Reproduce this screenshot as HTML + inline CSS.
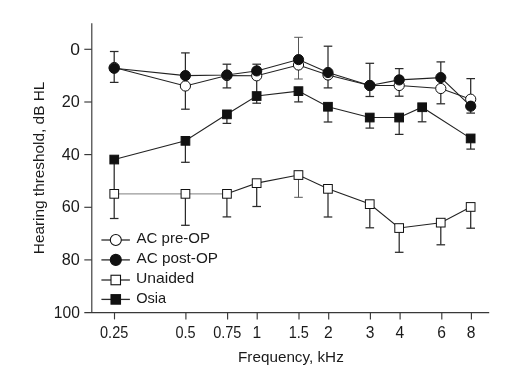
<!DOCTYPE html>
<html><head><meta charset="utf-8"><style>
html,body{margin:0;padding:0;background:#fff;}
svg{display:block;font-family:"Liberation Sans",sans-serif;fill:#1a1a1a;}
</style></head><body>
<svg width="520" height="391" viewBox="0 0 520 391">
<rect width="520" height="391" fill="#fff"/>
<line x1="91.8" y1="23.2" x2="91.8" y2="313.1" stroke="#383838" stroke-width="1.15"/>
<line x1="84.3" y1="312.6" x2="489.2" y2="312.6" stroke="#383838" stroke-width="1.15"/>
<line x1="84.3" y1="49.3" x2="91.8" y2="49.3" stroke="#383838" stroke-width="1.15"/>
<line x1="84.3" y1="102.0" x2="91.8" y2="102.0" stroke="#383838" stroke-width="1.15"/>
<line x1="84.3" y1="154.6" x2="91.8" y2="154.6" stroke="#383838" stroke-width="1.15"/>
<line x1="84.3" y1="207.3" x2="91.8" y2="207.3" stroke="#383838" stroke-width="1.15"/>
<line x1="84.3" y1="259.9" x2="91.8" y2="259.9" stroke="#383838" stroke-width="1.15"/>
<line x1="114.5" y1="312.6" x2="114.5" y2="319.4" stroke="#383838" stroke-width="1.15"/>
<line x1="185.9" y1="312.6" x2="185.9" y2="319.4" stroke="#383838" stroke-width="1.15"/>
<line x1="227.6" y1="312.6" x2="227.6" y2="319.4" stroke="#383838" stroke-width="1.15"/>
<line x1="257.2" y1="312.6" x2="257.2" y2="319.4" stroke="#383838" stroke-width="1.15"/>
<line x1="299.0" y1="312.6" x2="299.0" y2="319.4" stroke="#383838" stroke-width="1.15"/>
<line x1="328.7" y1="312.6" x2="328.7" y2="319.4" stroke="#383838" stroke-width="1.15"/>
<line x1="370.4" y1="312.6" x2="370.4" y2="319.4" stroke="#383838" stroke-width="1.15"/>
<line x1="400.1" y1="312.6" x2="400.1" y2="319.4" stroke="#383838" stroke-width="1.15"/>
<line x1="441.8" y1="312.6" x2="441.8" y2="319.4" stroke="#383838" stroke-width="1.15"/>
<line x1="471.4" y1="312.6" x2="471.4" y2="319.4" stroke="#383838" stroke-width="1.15"/>
<line x1="114.2" y1="193.8" x2="114.2" y2="218.5" stroke="#2a2a2a" stroke-width="1.25"/>
<line x1="109.9" y1="218.5" x2="118.5" y2="218.5" stroke="#2a2a2a" stroke-width="1.25"/>
<line x1="185.4" y1="193.8" x2="185.4" y2="225.3" stroke="#2a2a2a" stroke-width="1.25"/>
<line x1="181.1" y1="225.3" x2="189.7" y2="225.3" stroke="#2a2a2a" stroke-width="1.25"/>
<line x1="226.9" y1="193.8" x2="226.9" y2="216.9" stroke="#2a2a2a" stroke-width="1.25"/>
<line x1="222.6" y1="216.9" x2="231.2" y2="216.9" stroke="#2a2a2a" stroke-width="1.25"/>
<line x1="256.7" y1="183.1" x2="256.7" y2="206.5" stroke="#2a2a2a" stroke-width="1.25"/>
<line x1="252.4" y1="206.5" x2="261.0" y2="206.5" stroke="#2a2a2a" stroke-width="1.25"/>
<line x1="298.5" y1="175.0" x2="298.5" y2="197.3" stroke="#555" stroke-width="1.0"/>
<line x1="294.2" y1="197.3" x2="302.8" y2="197.3" stroke="#555" stroke-width="1.0"/>
<line x1="328.0" y1="188.8" x2="328.0" y2="217.0" stroke="#2a2a2a" stroke-width="1.25"/>
<line x1="323.7" y1="217.0" x2="332.3" y2="217.0" stroke="#2a2a2a" stroke-width="1.25"/>
<line x1="369.8" y1="204.1" x2="369.8" y2="227.8" stroke="#2a2a2a" stroke-width="1.25"/>
<line x1="365.5" y1="227.8" x2="374.1" y2="227.8" stroke="#2a2a2a" stroke-width="1.25"/>
<line x1="399.2" y1="228.0" x2="399.2" y2="252.3" stroke="#2a2a2a" stroke-width="1.25"/>
<line x1="394.9" y1="252.3" x2="403.5" y2="252.3" stroke="#2a2a2a" stroke-width="1.25"/>
<line x1="440.8" y1="222.7" x2="440.8" y2="244.8" stroke="#2a2a2a" stroke-width="1.25"/>
<line x1="436.5" y1="244.8" x2="445.1" y2="244.8" stroke="#2a2a2a" stroke-width="1.25"/>
<line x1="470.7" y1="206.9" x2="470.7" y2="228.2" stroke="#2a2a2a" stroke-width="1.25"/>
<line x1="466.4" y1="228.2" x2="475.0" y2="228.2" stroke="#2a2a2a" stroke-width="1.25"/>
<line x1="114.2" y1="159.6" x2="114.2" y2="193.8" stroke="#2a2a2a" stroke-width="1.25"/>
<line x1="185.4" y1="140.8" x2="185.4" y2="162.3" stroke="#2a2a2a" stroke-width="1.25"/>
<line x1="181.1" y1="162.3" x2="189.7" y2="162.3" stroke="#2a2a2a" stroke-width="1.25"/>
<line x1="226.9" y1="114.3" x2="226.9" y2="123.4" stroke="#2a2a2a" stroke-width="1.25"/>
<line x1="222.6" y1="123.4" x2="231.2" y2="123.4" stroke="#2a2a2a" stroke-width="1.25"/>
<line x1="256.7" y1="96.0" x2="256.7" y2="103.2" stroke="#2a2a2a" stroke-width="1.25"/>
<line x1="252.4" y1="103.2" x2="261.0" y2="103.2" stroke="#2a2a2a" stroke-width="1.25"/>
<line x1="298.5" y1="91.1" x2="298.5" y2="101.9" stroke="#2a2a2a" stroke-width="1.25"/>
<line x1="294.2" y1="101.9" x2="302.8" y2="101.9" stroke="#2a2a2a" stroke-width="1.25"/>
<line x1="328.0" y1="106.7" x2="328.0" y2="122.0" stroke="#2a2a2a" stroke-width="1.25"/>
<line x1="323.7" y1="122.0" x2="332.3" y2="122.0" stroke="#2a2a2a" stroke-width="1.25"/>
<line x1="369.8" y1="117.5" x2="369.8" y2="128.1" stroke="#2a2a2a" stroke-width="1.25"/>
<line x1="365.5" y1="128.1" x2="374.1" y2="128.1" stroke="#2a2a2a" stroke-width="1.25"/>
<line x1="399.2" y1="117.5" x2="399.2" y2="134.4" stroke="#2a2a2a" stroke-width="1.25"/>
<line x1="394.9" y1="134.4" x2="403.5" y2="134.4" stroke="#2a2a2a" stroke-width="1.25"/>
<line x1="422.1" y1="107.2" x2="422.1" y2="121.8" stroke="#2a2a2a" stroke-width="1.25"/>
<line x1="417.8" y1="121.8" x2="426.4" y2="121.8" stroke="#2a2a2a" stroke-width="1.25"/>
<line x1="470.7" y1="138.4" x2="470.7" y2="149.1" stroke="#2a2a2a" stroke-width="1.25"/>
<line x1="466.4" y1="149.1" x2="475.0" y2="149.1" stroke="#2a2a2a" stroke-width="1.25"/>
<line x1="114.2" y1="51.5" x2="114.2" y2="82.4" stroke="#2a2a2a" stroke-width="1.25"/>
<line x1="109.9" y1="51.5" x2="118.5" y2="51.5" stroke="#2a2a2a" stroke-width="1.25"/>
<line x1="109.9" y1="82.4" x2="118.5" y2="82.4" stroke="#2a2a2a" stroke-width="1.25"/>
<line x1="185.4" y1="52.9" x2="185.4" y2="109.2" stroke="#2a2a2a" stroke-width="1.25"/>
<line x1="181.1" y1="52.9" x2="189.7" y2="52.9" stroke="#2a2a2a" stroke-width="1.25"/>
<line x1="181.1" y1="109.2" x2="189.7" y2="109.2" stroke="#2a2a2a" stroke-width="1.25"/>
<line x1="226.9" y1="64.2" x2="226.9" y2="87.9" stroke="#2a2a2a" stroke-width="1.25"/>
<line x1="222.6" y1="64.2" x2="231.2" y2="64.2" stroke="#2a2a2a" stroke-width="1.25"/>
<line x1="222.6" y1="87.9" x2="231.2" y2="87.9" stroke="#2a2a2a" stroke-width="1.25"/>
<line x1="256.7" y1="64.2" x2="256.7" y2="96.0" stroke="#2a2a2a" stroke-width="1.25"/>
<line x1="252.4" y1="64.2" x2="261.0" y2="64.2" stroke="#2a2a2a" stroke-width="1.25"/>
<line x1="298.5" y1="37.3" x2="298.5" y2="79.0" stroke="#555" stroke-width="1.0"/>
<line x1="294.2" y1="37.3" x2="302.8" y2="37.3" stroke="#555" stroke-width="1.0"/>
<line x1="294.2" y1="79.0" x2="302.8" y2="79.0" stroke="#555" stroke-width="1.0"/>
<line x1="328.0" y1="46.2" x2="328.0" y2="87.9" stroke="#2a2a2a" stroke-width="1.25"/>
<line x1="323.7" y1="46.2" x2="332.3" y2="46.2" stroke="#2a2a2a" stroke-width="1.25"/>
<line x1="323.7" y1="87.9" x2="332.3" y2="87.9" stroke="#2a2a2a" stroke-width="1.25"/>
<line x1="369.8" y1="63.3" x2="369.8" y2="96.5" stroke="#2a2a2a" stroke-width="1.25"/>
<line x1="365.5" y1="63.3" x2="374.1" y2="63.3" stroke="#2a2a2a" stroke-width="1.25"/>
<line x1="365.5" y1="96.5" x2="374.1" y2="96.5" stroke="#2a2a2a" stroke-width="1.25"/>
<line x1="399.2" y1="68.6" x2="399.2" y2="96.2" stroke="#2a2a2a" stroke-width="1.25"/>
<line x1="394.9" y1="68.6" x2="403.5" y2="68.6" stroke="#2a2a2a" stroke-width="1.25"/>
<line x1="394.9" y1="96.2" x2="403.5" y2="96.2" stroke="#2a2a2a" stroke-width="1.25"/>
<line x1="440.8" y1="61.9" x2="440.8" y2="103.8" stroke="#2a2a2a" stroke-width="1.25"/>
<line x1="436.5" y1="61.9" x2="445.1" y2="61.9" stroke="#2a2a2a" stroke-width="1.25"/>
<line x1="436.5" y1="103.8" x2="445.1" y2="103.8" stroke="#2a2a2a" stroke-width="1.25"/>
<line x1="470.7" y1="78.6" x2="470.7" y2="113.1" stroke="#2a2a2a" stroke-width="1.25"/>
<line x1="466.4" y1="78.6" x2="475.0" y2="78.6" stroke="#2a2a2a" stroke-width="1.25"/>
<line x1="466.4" y1="113.1" x2="475.0" y2="113.1" stroke="#2a2a2a" stroke-width="1.25"/>
<polyline points="114.2,193.8 185.4,193.8 226.9,193.8" fill="none" stroke="#999" stroke-width="1.3"/>
<polyline points="226.9,193.8 256.7,183.1 298.5,175.0 328.0,188.8 369.8,204.1 399.2,228.0 440.8,222.7 470.7,206.9" fill="none" stroke="#222" stroke-width="1.08"/>
<polyline points="114.2,159.6 185.4,140.8 226.9,114.3 256.7,96.0 298.5,91.1 328.0,106.7 369.8,117.5 399.2,117.5 422.1,107.2 470.7,138.4" fill="none" stroke="#222" stroke-width="1.08"/>
<polyline points="114.2,67.5 185.4,86.0 226.9,75.5 256.7,75.8 298.5,65.0 328.0,75.0 369.8,85.5 399.2,85.5 440.8,88.5 470.7,99.2" fill="none" stroke="#222" stroke-width="1.08"/>
<polyline points="114.2,68.3 185.4,75.6 226.9,75.0 256.7,70.9 298.5,59.6 328.0,72.5 369.8,85.5 399.2,79.9 440.8,77.6 470.7,106.2" fill="none" stroke="#222" stroke-width="1.08"/>
<rect x="109.9" y="189.5" width="8.7" height="8.7" fill="#fff" stroke="#111" stroke-width="1"/>
<rect x="181.1" y="189.5" width="8.7" height="8.7" fill="#fff" stroke="#111" stroke-width="1"/>
<rect x="222.6" y="189.5" width="8.7" height="8.7" fill="#fff" stroke="#111" stroke-width="1"/>
<rect x="252.3" y="178.8" width="8.7" height="8.7" fill="#fff" stroke="#111" stroke-width="1"/>
<rect x="294.1" y="170.7" width="8.7" height="8.7" fill="#fff" stroke="#111" stroke-width="1"/>
<rect x="323.6" y="184.5" width="8.7" height="8.7" fill="#fff" stroke="#111" stroke-width="1"/>
<rect x="365.4" y="199.8" width="8.7" height="8.7" fill="#fff" stroke="#111" stroke-width="1"/>
<rect x="394.8" y="223.7" width="8.7" height="8.7" fill="#fff" stroke="#111" stroke-width="1"/>
<rect x="436.4" y="218.3" width="8.7" height="8.7" fill="#fff" stroke="#111" stroke-width="1"/>
<rect x="466.3" y="202.6" width="8.7" height="8.7" fill="#fff" stroke="#111" stroke-width="1"/>
<rect x="109.9" y="155.2" width="8.7" height="8.7" fill="#111" stroke="#111" stroke-width="1"/>
<rect x="181.1" y="136.5" width="8.7" height="8.7" fill="#111" stroke="#111" stroke-width="1"/>
<rect x="222.6" y="110.0" width="8.7" height="8.7" fill="#111" stroke="#111" stroke-width="1"/>
<rect x="252.3" y="91.7" width="8.7" height="8.7" fill="#111" stroke="#111" stroke-width="1"/>
<rect x="294.1" y="86.8" width="8.7" height="8.7" fill="#111" stroke="#111" stroke-width="1"/>
<rect x="323.6" y="102.4" width="8.7" height="8.7" fill="#111" stroke="#111" stroke-width="1"/>
<rect x="365.4" y="113.2" width="8.7" height="8.7" fill="#111" stroke="#111" stroke-width="1"/>
<rect x="394.8" y="113.2" width="8.7" height="8.7" fill="#111" stroke="#111" stroke-width="1"/>
<rect x="417.8" y="102.9" width="8.7" height="8.7" fill="#111" stroke="#111" stroke-width="1"/>
<rect x="466.3" y="134.1" width="8.7" height="8.7" fill="#111" stroke="#111" stroke-width="1"/>
<circle cx="114.2" cy="67.5" r="5.1" fill="#fff" stroke="#111" stroke-width="1"/>
<circle cx="185.4" cy="86.0" r="5.1" fill="#fff" stroke="#111" stroke-width="1"/>
<circle cx="226.9" cy="75.5" r="5.1" fill="#fff" stroke="#111" stroke-width="1"/>
<circle cx="256.7" cy="75.8" r="5.1" fill="#fff" stroke="#111" stroke-width="1"/>
<circle cx="298.5" cy="65.0" r="5.1" fill="#fff" stroke="#111" stroke-width="1"/>
<circle cx="328.0" cy="75.0" r="5.1" fill="#fff" stroke="#111" stroke-width="1"/>
<circle cx="369.8" cy="85.5" r="5.1" fill="#fff" stroke="#111" stroke-width="1"/>
<circle cx="399.2" cy="85.5" r="5.1" fill="#fff" stroke="#111" stroke-width="1"/>
<circle cx="440.8" cy="88.5" r="5.1" fill="#fff" stroke="#111" stroke-width="1"/>
<circle cx="470.7" cy="99.2" r="5.1" fill="#fff" stroke="#111" stroke-width="1"/>
<circle cx="114.2" cy="68.3" r="5.1" fill="#111" stroke="#111" stroke-width="1"/>
<circle cx="185.4" cy="75.6" r="5.1" fill="#111" stroke="#111" stroke-width="1"/>
<circle cx="226.9" cy="75.0" r="5.1" fill="#111" stroke="#111" stroke-width="1"/>
<circle cx="256.7" cy="70.9" r="5.1" fill="#111" stroke="#111" stroke-width="1"/>
<circle cx="298.5" cy="59.6" r="5.1" fill="#111" stroke="#111" stroke-width="1"/>
<circle cx="328.0" cy="72.5" r="5.1" fill="#111" stroke="#111" stroke-width="1"/>
<circle cx="369.8" cy="85.5" r="5.1" fill="#111" stroke="#111" stroke-width="1"/>
<circle cx="399.2" cy="79.9" r="5.1" fill="#111" stroke="#111" stroke-width="1"/>
<circle cx="440.8" cy="77.6" r="5.1" fill="#111" stroke="#111" stroke-width="1"/>
<circle cx="470.7" cy="106.2" r="5.1" fill="#111" stroke="#111" stroke-width="1"/>
<line x1="101.4" y1="240.0" x2="129.9" y2="240.0" stroke="#2a2a2a" stroke-width="1.3"/>
<line x1="101.4" y1="259.9" x2="129.9" y2="259.9" stroke="#2a2a2a" stroke-width="1.3"/>
<line x1="101.4" y1="280.0" x2="129.9" y2="280.0" stroke="#2a2a2a" stroke-width="1.3"/>
<line x1="101.4" y1="299.4" x2="129.9" y2="299.4" stroke="#2a2a2a" stroke-width="1.3"/>
<circle cx="115.8" cy="240.0" r="5.5" fill="#fff" stroke="#111" stroke-width="1.1"/>
<circle cx="115.8" cy="259.9" r="5.5" fill="#111" stroke="#111" stroke-width="1.1"/>
<rect x="111.0" y="275.25" width="9.5" height="9.5" fill="#fff" stroke="#111" stroke-width="1.1"/>
<rect x="111.0" y="294.65" width="9.5" height="9.5" fill="#111" stroke="#111" stroke-width="1.1"/>
<g style="opacity:0.999">
<text transform="translate(136.5,243.4) scale(1.0,1)" font-size="15" text-anchor="start" textLength="73.5" lengthAdjust="spacingAndGlyphs">AC pre-OP</text>
<text transform="translate(136.5,263.0) scale(1.0,1)" font-size="15" text-anchor="start" textLength="81.5" lengthAdjust="spacingAndGlyphs">AC post-OP</text>
<text transform="translate(135.9,283.3) scale(1.0,1)" font-size="15" text-anchor="start" textLength="58.4" lengthAdjust="spacingAndGlyphs">Unaided</text>
<text transform="translate(136.2,302.9) scale(1.0,1)" font-size="15" text-anchor="start" textLength="30.0" lengthAdjust="spacingAndGlyphs">Osia</text>
<text transform="translate(79.9,54.5) scale(1.12,1)" font-size="15.6" text-anchor="end">0</text>
<text transform="translate(79.9,107.16) scale(1.04,1)" font-size="15.6" text-anchor="end">20</text>
<text transform="translate(79.9,159.82) scale(1.04,1)" font-size="15.6" text-anchor="end">40</text>
<text transform="translate(79.9,212.47999999999996) scale(1.04,1)" font-size="15.6" text-anchor="end">60</text>
<text transform="translate(79.9,265.14) scale(1.04,1)" font-size="15.6" text-anchor="end">80</text>
<text transform="translate(79.9,317.8) scale(1.0,1)" font-size="15.6" text-anchor="end">100</text>
<text transform="translate(114.15,337.6) scale(0.93,1)" font-size="15.6" text-anchor="middle">0.25</text>
<text transform="translate(185.55,337.6) scale(0.93,1)" font-size="15.6" text-anchor="middle">0.5</text>
<text transform="translate(227.31632255149054,337.6) scale(0.93,1)" font-size="15.6" text-anchor="middle">0.75</text>
<text transform="translate(256.95,337.6) scale(1.0,1)" font-size="15.6" text-anchor="middle">1</text>
<text transform="translate(298.7163225514906,337.6) scale(0.93,1)" font-size="15.6" text-anchor="middle">1.5</text>
<text transform="translate(328.35,337.6) scale(1.0,1)" font-size="15.6" text-anchor="middle">2</text>
<text transform="translate(370.11632255149055,337.6) scale(1.0,1)" font-size="15.6" text-anchor="middle">3</text>
<text transform="translate(399.75,337.6) scale(1.0,1)" font-size="15.6" text-anchor="middle">4</text>
<text transform="translate(441.51632255149053,337.6) scale(1.0,1)" font-size="15.6" text-anchor="middle">6</text>
<text transform="translate(471.15,337.6) scale(1.0,1)" font-size="15.6" text-anchor="middle">8</text>
<text transform="translate(238.0,361.8) scale(1.0,1)" font-size="15" text-anchor="start" textLength="105.8" lengthAdjust="spacingAndGlyphs">Frequency, kHz</text>
<text transform="translate(44.4,254.2) rotate(-90)" font-size="15" textLength="172.5" lengthAdjust="spacingAndGlyphs">Hearing threshold, dB HL</text>
</g>
</svg></body></html>
